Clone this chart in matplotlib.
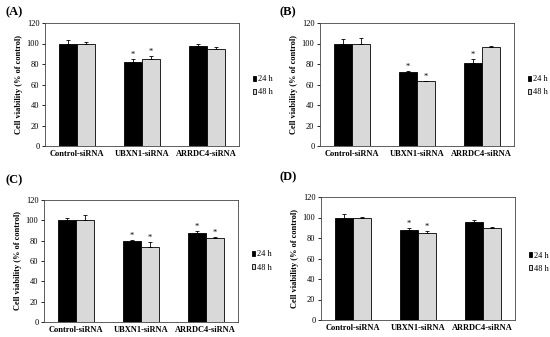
import matplotlib
matplotlib.use("Agg")
import matplotlib.pyplot as plt
import numpy as np
from matplotlib.patches import Patch

plt.rcParams['font.family'] = ['Liberation Serif', 'DejaVu Serif']

categories = ["Control-siRNA", "UBXN1-siRNA", "ARRDC4-siRNA"]
panel_labels = ["(A)", "(B)", "(C)", "(D)"]
series_names = ["24 h", "48 h"]

A_24 = [100, 82, 97.5]; A_24_err = [3, 3, 2.5]
A_48 = [100, 84.5, 94.5]; A_48_err = [1.5, 3.5, 2.5]
A_star24 = [False, True, False]; A_star48 = [False, True, False]

B_24 = [100, 72, 81]; B_24_err = [4, 1.5, 4]
B_48 = [100, 63, 96.5]; B_48_err = [5.5, 0.5, 1.5]
B_star24 = [False, True, True]; B_star48 = [False, True, False]

C_24 = [100, 79.5, 87.5]; C_24_err = [2, 1, 2]
C_48 = [100, 74, 83]; C_48_err = [5, 5, 1]
C_star24 = [False, True, True]; C_star48 = [False, True, True]

D_24 = [99.5, 87.5, 95.5]; D_24_err = [3.5, 2, 2]
D_48 = [100, 85, 89.5]; D_48_err = [0.5, 2, 1]
D_star24 = [False, True, False]; D_star48 = [False, True, False]

panels = [
    (A_24, A_24_err, A_48, A_48_err, A_star24, A_star48),
    (B_24, B_24_err, B_48, B_48_err, B_star24, B_star48),
    (C_24, C_24_err, C_48, C_48_err, C_star24, C_star48),
    (D_24, D_24_err, D_48, D_48_err, D_star24, D_star48),
]

W, H = 550, 337
fig = plt.figure(figsize=(5.5, 3.37), dpi=100)

# axes rects in pixels: left, right, top, bottom
rects = [(45, 239, 23, 146), (320, 514, 23, 146), (44, 238, 200, 322), (321, 515, 197, 320)]
label_pos = [(5, 12), (280, 12), (5, 180), (280, 177)]
legend_y = [0.49, 0.49, 0.5, 0.47]

bw = 0.28
for i, (v24, e24, v48, e48, s24, s48) in enumerate(panels):
    l, r, t, b = rects[i]
    ax = fig.add_axes([l / W, 1 - b / H, (r - l) / W, (b - t) / H])
    x = np.arange(len(categories))
    ax.bar(x - bw / 2, v24, bw, color='black', edgecolor='black', linewidth=0.6,
           yerr=[np.zeros(3), e24], error_kw=dict(ecolor='black', elinewidth=0.6, capsize=1.5, capthick=0.6))
    ax.bar(x + bw / 2, v48, bw, color='#d9d9d9', edgecolor='black', linewidth=0.6,
           yerr=[np.zeros(3), e48], error_kw=dict(ecolor='black', elinewidth=0.6, capsize=1.5, capthick=0.6))
    for j in range(3):
        if s24[j]:
            ax.text(x[j] - bw / 2, v24[j] + e24[j], "*", ha='center', va='bottom', fontsize=6)
        if s48[j]:
            ax.text(x[j] + bw / 2, v48[j] + e48[j], "*", ha='center', va='bottom', fontsize=6)
    ax.set_xlim(-0.5, 2.5)
    ax.set_ylim(0, 120)
    ax.set_yticks(range(0, 121, 20))
    ax.tick_params(axis='y', labelsize=6, length=2, width=0.6, pad=2)
    ax.tick_params(axis='x', length=0, pad=3)
    ax.set_xticks(x)
    ax.set_xticklabels(categories, fontsize=6, fontweight='bold')
    ax.set_ylabel("Cell viability (% of control)", fontsize=6, fontweight='bold', labelpad=3)
    for sp in ax.spines.values():
        sp.set_linewidth(0.6)
        sp.set_color('#444444')
    handles = [Patch(facecolor='black', edgecolor='black', linewidth=0.6),
               Patch(facecolor='#d9d9d9', edgecolor='black', linewidth=0.6)]
    ax.legend(handles, series_names, loc='center left', bbox_to_anchor=(1.07, legend_y[i]), frameon=False,
              fontsize=6, handlelength=0.45, handleheight=0.45, handletextpad=0.15, labelspacing=0.6,
              borderpad=0, borderaxespad=0)
    lx, ly = label_pos[i]
    fig.text(lx / W, 1 - ly / H, panel_labels[i], fontsize=9, fontweight='bold', va='center', ha='left')

fig.savefig("out.png", dpi=100)
